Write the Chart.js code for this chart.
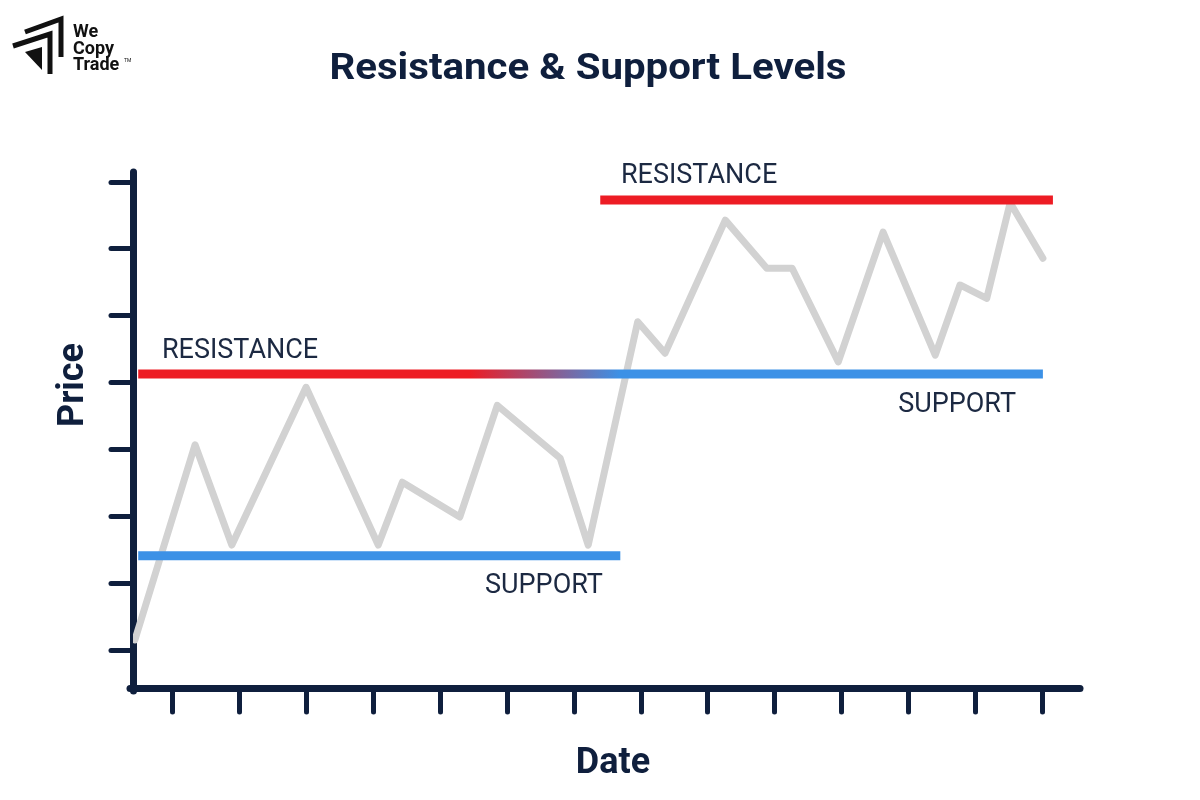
<!DOCTYPE html>
<html>
<head>
<meta charset="utf-8">
<title>Resistance &amp; Support Levels</title>
<script src="https://cdn.jsdelivr.net/npm/chart.js@4.4.1/dist/chart.umd.min.js"></script>
<style>
  html, body { margin: 0; padding: 0; background: #fff; }
  canvas { display: block; }
</style>
</head>
<body>
<canvas id="chart" width="1200" height="800"></canvas>
<script>
// price path (x = date position, y = price level)
const dateX  = [0.43, 1.33, 1.88, 2.99, 4.07, 4.43, 5.29, 5.85, 6.79, 7.21, 7.95, 8.36, 9.26, 9.88, 10.26, 10.95, 11.62, 12.40, 12.77, 13.17, 13.52, 14.01];
const priceY = [1.15, 4.07, 2.57, 4.93, 2.57, 3.51, 2.99, 4.66, 3.87, 2.57, 5.91, 5.44, 7.43, 6.71, 6.71, 5.31, 7.25, 5.41, 6.46, 6.26, 7.69, 6.86];

// tick marks (no labels on the axes)
const dateTicks  = [1, 2, 3, 4, 5, 6, 7, 8, 9, 10, 11, 12, 13, 14];
const priceTicks = [1, 2, 3, 4, 5, 6, 7, 8];

// horizontal levels
const lowResX  = [0.48, 14.01];
const lowResY  = [5.13, 5.13];
const lowSupX  = [0.48, 7.69];
const lowSupY  = [2.41, 2.41];
const highResX = [7.39, 14.16];
const highResY = [7.73, 7.73];
// old resistance turns into support between these dates
const flipFrom = 5.44;
const flipTo   = 7.69;

// level labels
const labelText = ["RESISTANCE", "SUPPORT", "RESISTANCE", "SUPPORT"];
const labelX    = [0.835, 5.667, 7.70, 11.845];
const labelY    = [5.367, 1.853, 7.985, 4.56];

const NAVY = "#0f1f3d";
const RED  = "#ed1c24";
const BLUE = "#3c91e6";
const GREY = "#d2d2d2";

const toPoints = (xs, ys) => xs.map((x, i) => ({ x: x, y: ys[i] }));

// draw centred text stretched to a given width
function fitText(c, text, cx, y, width) {
    const w = c.measureText(text).width;
    c.save();
    c.translate(cx, y);
    c.scale(width / w, 1);
    c.fillText(text, 0, 0);
    c.restore();
}

const textPlugin = {
    id: "texts",
    beforeDraw(chart) {
        // round ends on axis lines and tick marks
        chart.ctx.lineCap = "round";
    },
    afterDraw(chart) {
        const c = chart.ctx;
        const { x, y } = chart.scales;
        c.save();
        c.lineCap = "butt";
        c.fillStyle = NAVY;

        // title
        c.textAlign = "center";
        c.textBaseline = "alphabetic";
        c.font = "bold 37px Roboto";
        fitText(c, "Resistance & Support Levels", 588, 79, 517);

        // axis titles
        c.font = "bold 36px Roboto";
        c.fillText("Date", 613, 773);
        c.save();
        c.translate(83, 385);
        c.rotate(-Math.PI / 2);
        c.fillText("Price", 0, 0);
        c.restore();

        // level labels
        c.textAlign = "left";
        c.fillStyle = "#1c2942";
        c.font = "27px Roboto";
        labelText.forEach((t, i) => {
            c.fillText(t, x.getPixelForValue(labelX[i]), y.getPixelForValue(labelY[i]));
        });

        // logo
        c.fillStyle = "#111";
        c.strokeStyle = "#111";
        c.lineWidth = 5;
        c.lineJoin = "miter";
        c.beginPath();
        c.moveTo(25, 32); c.lineTo(61, 19); c.lineTo(61, 57);
        c.stroke();
        c.beginPath();
        c.moveTo(13, 46); c.lineTo(50, 34); c.lineTo(50, 74);
        c.stroke();
        c.beginPath();
        c.moveTo(25, 52); c.lineTo(42, 47); c.lineTo(42, 70);
        c.closePath();
        c.fill();
        c.font = "bold 18px Roboto";
        c.fillText("We", 73, 37);
        c.fillText("Copy", 73, 54);
        c.fillText("Trade", 73, 70);
        c.font = "5px Roboto";
        c.fillText("TM", 124, 62);
        c.restore();
    }
};

new Chart(document.getElementById("chart"), {
    type: "line",
    data: {
        datasets: [
            {
                label: "Resistance (high)",
                data: toPoints(highResX, highResY),
                borderColor: RED,
                borderWidth: 9,
                borderCapStyle: "butt",
                pointRadius: 0
            },
            {
                label: "Resistance to support",
                data: toPoints(lowResX, lowResY),
                borderColor: (ctx) => {
                    const chart = ctx.chart;
                    if (!chart.chartArea) return RED;
                    const x0 = chart.scales.x.getPixelForValue(flipFrom);
                    const x1 = chart.scales.x.getPixelForValue(flipTo);
                    const g = chart.ctx.createLinearGradient(x0, 0, x1, 0);
                    g.addColorStop(0, RED);
                    g.addColorStop(1, BLUE);
                    return g;
                },
                borderWidth: 9,
                borderCapStyle: "butt",
                pointRadius: 0
            },
            {
                label: "Support (low)",
                data: toPoints(lowSupX, lowSupY),
                borderColor: BLUE,
                borderWidth: 9,
                borderCapStyle: "butt",
                pointRadius: 0
            },
            {
                label: "Price",
                data: toPoints(dateX, priceY),
                borderColor: GREY,
                borderWidth: 7,
                borderJoinStyle: "round",
                borderCapStyle: "round",
                pointRadius: 0,
                tension: 0
            }
        ]
    },
    options: {
        responsive: false,
        animation: false,
        devicePixelRatio: 1,
        layout: {
            padding: { top: 175, right: 123, bottom: 0, left: 0 }
        },
        plugins: {
            legend: { display: false },
            tooltip: { enabled: false }
        },
        scales: {
            x: {
                type: "linear",
                min: 0.402,
                max: 14.52,
                ticks: { display: false },
                grid: {
                    drawOnChartArea: false,
                    tickLength: 24,
                    lineWidth: 5,
                    tickColor: NAVY
                },
                border: { width: 7, color: NAVY },
                afterBuildTicks: (s) => { s.ticks = dateTicks.map(v => ({ value: v })); },
                afterFit: (s) => { s.height = 112; }
            },
            y: {
                type: "linear",
                min: 0.432,
                max: 8.105,
                ticks: { display: false },
                grid: {
                    drawOnChartArea: false,
                    tickLength: 22,
                    lineWidth: 5,
                    tickColor: NAVY
                },
                border: { width: 7, color: NAVY },
                afterBuildTicks: (s) => { s.ticks = priceTicks.map(v => ({ value: v })); },
                afterFit: (s) => { s.width = 133; }
            }
        }
    },
    plugins: [textPlugin]
});
</script>
</body>
</html>
